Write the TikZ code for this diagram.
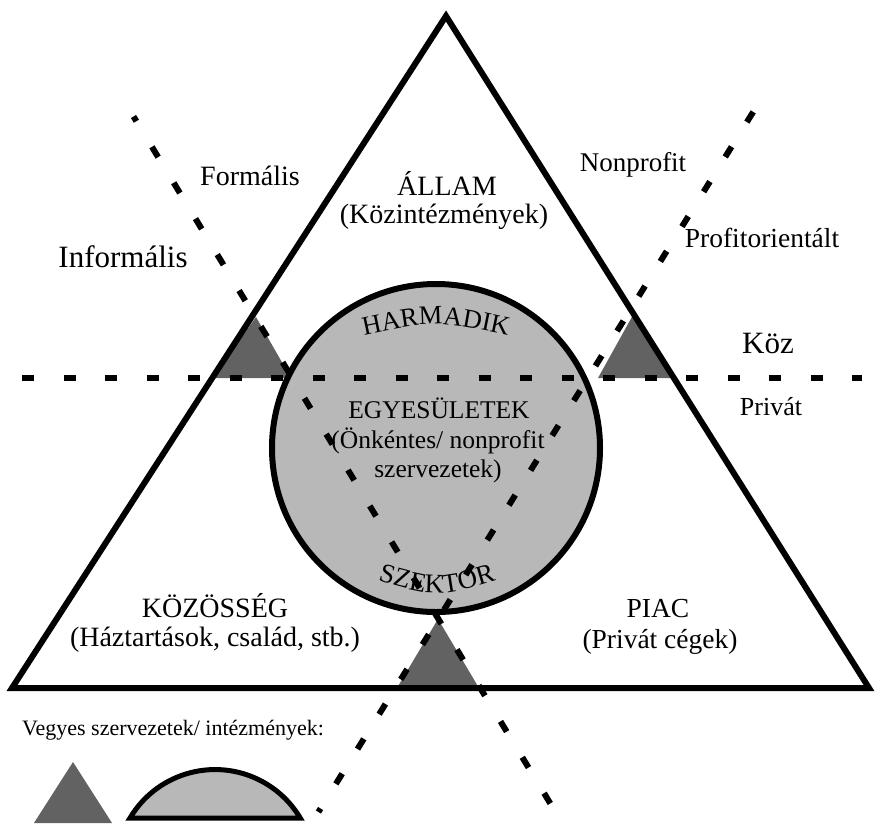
\documentclass[tikz,border=0pt]{standalone}
\usepackage{fontspec}
\setmainfont{Liberation Serif}
\usetikzlibrary{decorations.text}

\definecolor{sectorfill}{RGB}{184,184,184}
\definecolor{mixfill}{RGB}{98,98,98}

\tikzset{
  frame/.style={line width=6pt, line join=miter},
  divider/.style={line width=6pt},
  mixed/.style={fill=mixfill},
  lbl/.style={inner sep=0pt, anchor=base},
}
\newcommand{\fsz}[1]{\fontsize{#1}{#1}\selectfont}

\begin{document}
\begin{tikzpicture}[x=1pt,y=-1pt]
\fill[white] (0,0) rectangle (875,823);
\useasboundingbox (0,0) rectangle (875,823);

% corners of the sector triangle and centre of the third-sector circle
\coordinate (apex) at (446,16);
\coordinate (bl) at (12,688);
\coordinate (br) at (869,688);
\coordinate (c) at (436,448);

% end points of the three dividing lines
\coordinate (h1) at (22,378);      \coordinate (h2) at (862,378);
\coordinate (a1) at (133.5,116.5); \coordinate (a2) at (551.6,805.6);
\coordinate (b1) at (753.2,111.9); \coordinate (b2) at (318.4,812);

% third sector
\fill[sectorfill] (c) circle[radius=164pt];

% mixed organisations (small triangles)
\coordinate (lt1) at (256,317); \coordinate (lt2) at (213,378); \coordinate (lt3) at (291,378);
\coordinate (rt1) at (633,315); \coordinate (rt2) at (598,378); \coordinate (rt3) at (675,378);
\coordinate (bt1) at (438,619); \coordinate (bt2) at (397,688); \coordinate (bt3) at (479,688);
\fill[mixed] (lt1) -- (lt2) -- (lt3) -- cycle;
\fill[mixed] (rt1) -- (rt2) -- (rt3) -- cycle;
\fill[mixed] (bt1) -- (bt2) -- (bt3) -- cycle;

% dividing lines
\draw[divider, dash pattern=on 12pt off 29.5pt] (h1) -- (h2);
\draw[divider, dash pattern=on 12pt off 30pt, dash phase=6.5pt] (a1) -- (a2);
\draw[divider, dash pattern=on 12pt off 29pt] (b1) -- (b2);

% outlines
\draw[line width=6pt] (c) circle[radius=164pt];
\draw[frame] (apex) -- (bl) -- (br) -- cycle;

% labels
\node[lbl] (allam) at (447,195) {\fsz{28}ÁLLAM};
\node[lbl] (kozint) at (444,223) {\fsz{28}(Közintézmények)};
\node[lbl] (formalis) at (250,185) {\fsz{28}Formális};
\node[lbl] (informalis) at (123,267) {\fsz{31}Informális};
\node[lbl] (nonprofit) at (633,171) {\fsz{27}Nonprofit};
\node[lbl] (profit) at (762,247) {\fsz{27.5}Profitorientált};
\node[lbl] (koz) at (768,353) {\fsz{31}Köz};
\node[lbl] (privat) at (771,415) {\fsz{26}Privát};
\node[lbl] (egyes) at (439,418) {\fsz{25.5}EGYESÜLETEK};
\node[lbl] (onkent) at (438,448) {\fsz{25.5}(Önkéntes/ nonprofit};
\node[lbl] (szerv) at (438,477) {\fsz{25.5}szervezetek)};
\node[lbl] (kozosseg) at (215,617) {\fsz{28}KÖZÖSSÉG};
\node[lbl] (haztart) at (215,646) {\fsz{28}(Háztartások, család, stb.)};
\node[lbl] (piac) at (658,617) {\fsz{27.5}PIAC};
\node[lbl] (cegek) at (660,648) {\fsz{27.5}(Privát cégek)};

% curved words inside the circle
\path[decorate, decoration={text along path, text align=center,
  text={|\fsz{26.5}|HARMADIK}}]
  (356,337) .. controls (436,320) .. (516,337);
\path[decorate, decoration={text along path, text align=center,
  text={|\fsz{27}|SZEKTOR}}]
  (370,578) .. controls (437,598) .. (504,578);

% legend
\node[lbl, anchor=base west] (legend) at (22,735) {\fsz{22}Vegyes szervezetek/ intézmények:};
\coordinate (lg1) at (73,762); \coordinate (lg2) at (34,823); \coordinate (lg3) at (112,823);
\fill[mixed] (lg1) -- (lg2) -- (lg3) -- cycle;
\coordinate (seg) at (130,818);
\draw[line width=5pt, fill=sectorfill, line join=miter]
  (seg) arc[start angle=149.3, end angle=30.7, radius=99pt] -- cycle;
\end{tikzpicture}
\end{document}
